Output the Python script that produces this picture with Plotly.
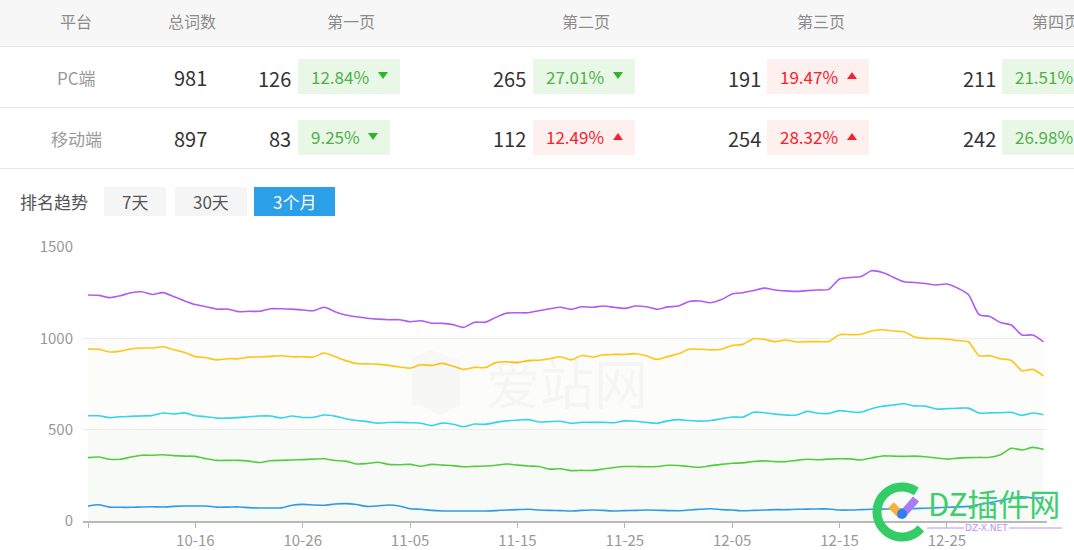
import math
import pandas as pd
import plotly.graph_objects as go

W, H = 1074, 550
FONT = "Noto Sans CJK SC"

# ---------------- data ----------------
dates = [d.strftime("%m-%d") for d in pd.date_range("2019-10-06", periods=90)]

page1 = [82, 89, 76, 75, 75, 77, 78, 77, 80, 82, 82, 82, 76, 76, 77, 73, 71, 71, 72, 86,
         91, 88, 86, 93, 95, 90, 80, 82, 88, 82, 67, 64, 58, 55, 55, 55, 55, 55, 57, 60,
         62, 64, 60, 58, 57, 55, 58, 60, 58, 55, 57, 58, 60, 59, 57, 56, 60, 64, 67, 62,
         60, 56, 58, 60, 62, 62, 64, 65, 66, 66, 60, 60, 62, 64, 65, 66, 66, 68, 70, 72,
         75, 77, 80, 90, 100, 112, 125, 133, 126, 126]
page2 = [347, 350, 338, 338, 350, 360, 360, 363, 358, 355, 354, 341, 332, 332, 332, 328, 320, 330, 332, 334,
         336, 339, 341, 331, 328, 312, 315, 322, 310, 308, 310, 300, 310, 306, 303, 297, 299, 301, 305, 312,
         306, 301, 298, 284, 286, 276, 277, 277, 285, 293, 298, 298, 297, 298, 305, 304, 298, 294, 303, 310,
         316, 318, 326, 329, 325, 325, 332, 338, 335, 339, 341, 340, 334, 345, 356, 355, 354, 355, 352, 345,
         339, 344, 347, 348, 349, 363, 398, 389, 403, 392]
page3 = [576, 576, 566, 571, 573, 575, 578, 591, 586, 592, 576, 571, 563, 563, 566, 571, 575, 575, 564, 575,
         567, 568, 580, 574, 560, 550, 544, 536, 539, 540, 538, 535, 522, 536, 530, 516, 531, 529, 540, 548,
         552, 555, 542, 544, 546, 535, 540, 540, 540, 538, 548, 546, 540, 535, 548, 555, 550, 547, 550, 560,
         569, 569, 595, 593, 585, 580, 580, 600, 590, 589, 604, 598, 595, 615, 628, 635, 642, 630, 629, 613,
         615, 617, 618, 591, 592, 593, 595, 579, 591, 582]
page4 = [941, 940, 925, 930, 942, 947, 947, 954, 937, 922, 900, 894, 882, 888, 888, 897, 898, 901, 905, 899,
         899, 898, 920, 900, 878, 862, 860, 859, 852, 843, 837, 855, 852, 863, 847, 830, 841, 840, 868, 872,
         867, 878, 880, 888, 899, 882, 906, 897, 910, 912, 912, 916, 905, 885, 900, 915, 940, 940, 937, 940,
         961, 967, 998, 994, 982, 991, 980, 982, 982, 983, 1020, 1020, 1022, 1040, 1047, 1040, 1036, 1007, 1000, 999,
         995, 988, 981, 905, 905, 888, 879, 823, 830, 794]
page5 = [1237, 1235, 1223, 1233, 1250, 1255, 1240, 1250, 1228, 1205, 1185, 1173, 1160, 1160, 1146, 1148, 1148, 1162, 1162, 1160,
         1155, 1151, 1170, 1146, 1128, 1118, 1110, 1105, 1102, 1102, 1091, 1096, 1083, 1082, 1075, 1060, 1088, 1088, 1115, 1138,
         1140, 1140, 1151, 1162, 1170, 1159, 1173, 1170, 1177, 1170, 1164, 1177, 1173, 1159, 1172, 1177, 1202, 1204, 1195, 1212,
         1243, 1250, 1262, 1275, 1265, 1260, 1257, 1261, 1265, 1268, 1325, 1333, 1338, 1370, 1360, 1335, 1310, 1306, 1300, 1292,
         1297, 1275, 1240, 1130, 1120, 1086, 1073, 1018, 1018, 981]

series_names = ["第一页", "前两页", "前三页", "前四页", "前五页"]
series_values = [page1, page2, page3, page4, page5]
series_colors = ["#2e9be8", "#55cc3f", "#35d5e8", "#ffc514", "#b05cf3"]

tick_vals = ["10-06", "10-16", "10-26", "11-05", "11-15", "11-25", "12-05", "12-15", "12-25"]
tick_text = ["", "10-16", "10-26", "11-05", "11-15", "11-25", "12-05", "12-15", "12-25"]
y_ticks = [0, 500, 1000, 1500]

# table data
headers = ["平台", "总词数", "第一页", "第二页", "第三页", "第四页"]
platforms = ["PC端", "移动端"]
totals = [981, 897]
page_counts = [[126, 265, 191, 211], [83, 112, 254, 242]]
page_pcts = [["12.84%", "27.01%", "19.47%", "21.51%"], ["9.25%", "12.49%", "28.32%", "26.98%"]]
page_up = [[False, False, True, False], [False, True, True, False]]
buttons = ["7天", "30天", "3个月"]

# ---------------- helpers ----------------
def px(x):
    return x / W

def py(y):
    return 1 - y / H

def path_px(points, close=True):
    s = "M " + " L ".join(f"{px(x):.5f},{py(y):.5f}" for x, y in points)
    return s + (" Z" if close else "")

shapes = []
ann = []

def rect(x0, y0, x1, y1, color):
    shapes.append(dict(type="rect", xref="paper", yref="paper",
                       x0=px(x0), x1=px(x1), y0=py(y1), y1=py(y0),
                       fillcolor=color, line=dict(width=0), layer="below"))

def hline(x0, x1, y, color, width=1):
    shapes.append(dict(type="line", xref="paper", yref="paper",
                       x0=px(x0), x1=px(x1), y0=py(y), y1=py(y),
                       line=dict(color=color, width=width)))

def text(x, y, t, size, color, xanchor="center"):
    ann.append(dict(xref="paper", yref="paper", x=px(x), y=py(y), text=t,
                    showarrow=False, xanchor=xanchor, yanchor="middle",
                    font=dict(family=FONT, size=size, color=color)))

# ---------------- table ----------------
rect(0, 0, W, 46, "#f7f7f7")
hline(0, W, 46.5, "#e6e6e6")
hline(0, W, 107.5, "#e8e8e8")
hline(0, W, 168.5, "#e8e8e8")

header_x = [76, 192, 351, 586, 821, 1056]
for hx, h in zip(header_x, headers):
    text(hx, 21, h, 16, "#8c8c8c")

row_y = [77, 138]
num_right = [292, 527, 762, 997]
badge_left = [298, 533, 767, 1002]
for r in range(2):
    yc = row_y[r]
    text(76, yc, platforms[r], 17, "#999999")
    text(190, yc, str(totals[r]), 20, "#333333")
    for c in range(4):
        text(num_right[c] + 1, yc + 1, str(page_counts[r][c]), 20, "#333333", xanchor="right")
        up = page_up[r][c]
        bg = "#fff0f0" if up else "#e8f7e6"
        fg = "#f5222d" if up else "#4fb04a"
        tri = "#f5222d" if up else "#2fb52a"
        pct = page_pcts[r][c]
        bw = 102 if len(pct) == 6 else 92
        bl = badge_left[c]
        rect(bl, yc - 18, bl + bw, yc + 17, bg)
        text(bl + 11, yc - 1, pct, 17, fg, xanchor="left")
        tx = bl + bw - 17
        if up:
            pts = [(tx - 5, yc + 2), (tx + 5, yc + 2), (tx, yc - 5)]
        else:
            pts = [(tx - 5, yc - 5), (tx + 5, yc - 5), (tx, yc + 2)]
        shapes.append(dict(type="path", xref="paper", yref="paper", path=path_px(pts),
                           fillcolor=tri, line=dict(width=0)))

# ---------------- buttons ----------------
text(18, 201, "排名趋势", 17, "#555555", xanchor="left")
btn_box = [(104, 166), (175, 247), (254, 335)]
for i, (b, (x0, x1)) in enumerate(zip(buttons, btn_box)):
    active = i == 2
    rect(x0, 187, x1, 216, "#2b9fe8" if active else "#f5f5f5")
    text((x0 + x1) / 2, 202, b, 17, "#ffffff" if active else "#555555")

# ---------------- chart ----------------
fig = go.Figure()
for name, vals, col in zip(series_names, series_values, series_colors):
    fig.add_trace(go.Scatter(x=dates, y=vals, name=name, mode="lines",
                             line=dict(color=col, width=1.6, shape="spline", smoothing=0.7),
                             hoverinfo="skip"))

# faint background bands of the chart area
shapes.append(dict(type="rect", xref="x", yref="y", x0=0, x1=len(dates) - 1, y0=0, y1=500,
                   fillcolor="#f8faf8", line=dict(width=0), layer="below"))
shapes.append(dict(type="rect", xref="x", yref="y", x0=0, x1=len(dates) - 1, y0=500, y1=1000,
                   fillcolor="#fcfcfa", line=dict(width=0), layer="below"))

# watermark 爱站网
ann.append(dict(xref="paper", yref="paper", x=px(567), y=py(381), text="爱站网", showarrow=False,
                xanchor="center", yanchor="middle",
                font=dict(family=FONT, size=54, color="rgba(0,0,0,0.026)")))
shapes.append(dict(type="path", xref="paper", yref="paper",
                   path=path_px([(412, 358), (432, 350), (452, 358), (460, 358), (460, 405), (440, 415),
                                 (420, 405), (412, 405)]),
                   fillcolor="rgba(0,0,0,0.02)", line=dict(width=0)))

# DZ插件网 watermark
cx, cy, rr = 902, 512, 25
arc = [(cx + rr * math.cos(math.radians(a)), cy - rr * math.sin(math.radians(a)))
       for a in range(55, 322, 6)]
shapes.append(dict(type="path", xref="paper", yref="paper", path=path_px(arc, close=False),
                   line=dict(color="#33cc66", width=9)))
shapes.append(dict(type="path", xref="paper", yref="paper", path=path_px([(891, 505), (902, 516)], close=False),
                   line=dict(color="#f6b23c", width=8)))
shapes.append(dict(type="path", xref="paper", yref="paper", path=path_px([(903, 514), (916, 499)], close=False),
                   line=dict(color="#a77cf5", width=8)))
shapes.append(dict(type="circle", xref="paper", yref="paper", x0=px(897), x1=px(907), y0=py(519), y1=py(509),
                   fillcolor="#2d7ff0", line=dict(width=0)))
ann.append(dict(xref="paper", yref="paper", x=px(926), y=py(502), text="DZ插件网", showarrow=False,
                xanchor="left", yanchor="middle",
                font=dict(family=FONT, size=31, color="#3dcf6e")))
hline(927, 964, 528, "#b892f5", 1)
hline(1009, 1062, 528, "#b892f5", 1)
ann.append(dict(xref="paper", yref="paper", x=px(986), y=py(528), text="DZ-X.NET", showarrow=False,
                xanchor="center", yanchor="middle",
                font=dict(family="DejaVu Sans", size=9, color="#b892f5")))

x0_pix, x_last_pix = 88, 1043.5
step = (x_last_pix - x0_pix) / (len(dates) - 1)
dom_l, dom_r = 83, 1047
x_range = [-(x0_pix - dom_l) / step, (len(dates) - 1) + (dom_r - x_last_pix) / step]

fig.update_layout(
    width=W, height=H,
    margin=dict(l=0, r=0, t=0, b=0, autoexpand=False),
    paper_bgcolor="#ffffff", plot_bgcolor="rgba(0,0,0,0)",
    showlegend=False,
    shapes=shapes, annotations=ann,
    xaxis=dict(type="category", domain=[px(dom_l), px(dom_r)], range=x_range, automargin=False,
               tickmode="array", tickvals=tick_vals, ticktext=tick_text,
               showgrid=False, zeroline=False, showline=True, linecolor="#b8b8b8", linewidth=1.5,
               ticks="outside", ticklen=5, tickcolor="#b8b8b8", tickwidth=1,
               tickfont=dict(family=FONT, size=15, color="#999999"), fixedrange=True),
    yaxis=dict(domain=[py(521), py(247)], range=[0, 1500], tickmode="array", tickvals=y_ticks,
               automargin=False,
               showgrid=True, gridcolor="#ececec", gridwidth=1, zeroline=False, showline=False,
               ticks="", ticklabelstandoff=9,
               tickfont=dict(family=FONT, size=15, color="#999999"), fixedrange=True),
)

fig.write_html("out.html")
